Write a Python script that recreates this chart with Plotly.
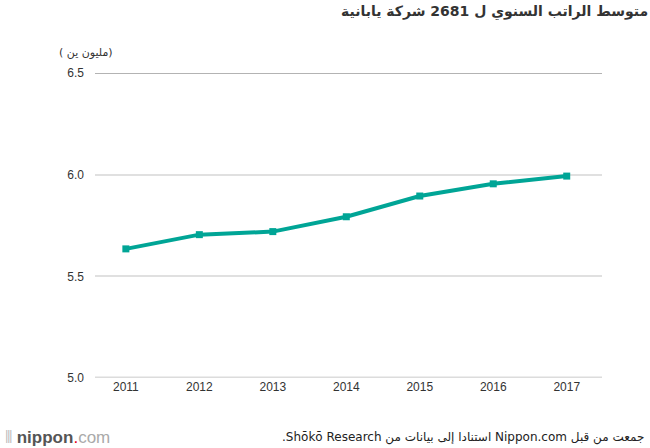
import plotly.graph_objects as go

years = ["2011", "2012", "2013", "2014", "2015", "2016", "2017"]
salary = [5.635, 5.705, 5.72, 5.793, 5.895, 5.955, 5.993]
y_ticks = [5.0, 5.5, 6.0, 6.5]
y_tick_labels = ["5.0", "5.5", "6.0", "6.5"]

title_text = "متوسط الراتب السنوي ل 2681 شركة يابانية"
unit_text = "( مليون ين)"
source_text = "جمعت من قبل Nippon.com استنادا إلى بيانات من Shōkō Research."

RLE, PDF = "\u202B", "\u202C"
teal = "#00a596"

fig = go.Figure()
fig.add_trace(go.Scatter(
    x=[int(y) for y in years], y=salary, mode="lines+markers",
    line=dict(color=teal, width=4),
    marker=dict(symbol="square", size=7, color=teal),
    hoverinfo="skip", showlegend=False,
))

# top gridline darker, baseline thicker
fig.add_shape(type="line", xref="paper", yref="y", x0=0, x1=1, y0=6.5, y1=6.5,
              line=dict(color="#9a9a9a", width=1.5), layer="below")
fig.add_shape(type="line", xref="paper", yref="y", x0=0, x1=1, y0=5.0, y1=5.0,
              line=dict(color="#dcdcdc", width=3), layer="below")

fig.update_layout(
    width=650, height=448,
    margin=dict(l=95, r=48, t=73, b=70),
    paper_bgcolor="white", plot_bgcolor="white",
    font=dict(family="DejaVu Sans, Arial", color="#444", size=12),
    xaxis=dict(
        range=[2010.58, 2017.48], tickmode="array",
        tickvals=[int(y) for y in years], ticktext=years,
        showgrid=False, zeroline=False, showline=False,
        ticks="", tickfont=dict(family="Liberation Sans, Arial", size=12, color="#333"),
        fixedrange=True,
    ),
    yaxis=dict(
        range=[5.0, 6.5], tickmode="array", tickvals=y_ticks, ticktext=y_tick_labels,
        showgrid=True, gridcolor="#e0e0e0", gridwidth=1.5,
        zeroline=False, showline=False, ticks="",
        ticklabelstandoff=10,
        tickfont=dict(family="Liberation Sans, Arial", size=12, color="#333"),
        fixedrange=True,
    ),
    annotations=[
        dict(text="<b>" + RLE + title_text + PDF + "</b>", xref="paper", yref="paper",
             x=1.095, y=1.0, yshift=61, xanchor="right", yanchor="middle",
             showarrow=False, font=dict(family="DejaVu Sans", size=14, color="#333")),
        dict(text=unit_text, xref="paper", yref="paper", x=-0.018, y=1.0, yshift=21,
             xanchor="center", yanchor="middle", showarrow=False,
             font=dict(family="DejaVu Sans", size=11, color="#333")),
        dict(text=RLE + source_text + PDF, xref="paper", yref="paper", x=1.086, y=0, yshift=-59,
             xanchor="right", yanchor="middle", showarrow=False,
             font=dict(family="DejaVu Sans, Liberation Sans", size=12, color="#222")),
        dict(text="<span style='color:#bbb'>⦀</span> <b><span style='color:#555'>nippon</span></b><span style='color:#e60012'>.</span><span style='color:#aaa'>com</span>",
             xref="paper", yref="paper", x=-0.181, y=0, yshift=-59,
             xanchor="left", yanchor="middle", showarrow=False,
             font=dict(family="Liberation Sans, Arial", size=17, color="#555")),
    ],
)

fig.write_html("out.html", config={"displayModeBar": False},
               post_script="document.body.style.margin='0';document.body.style.overflow='hidden';")
